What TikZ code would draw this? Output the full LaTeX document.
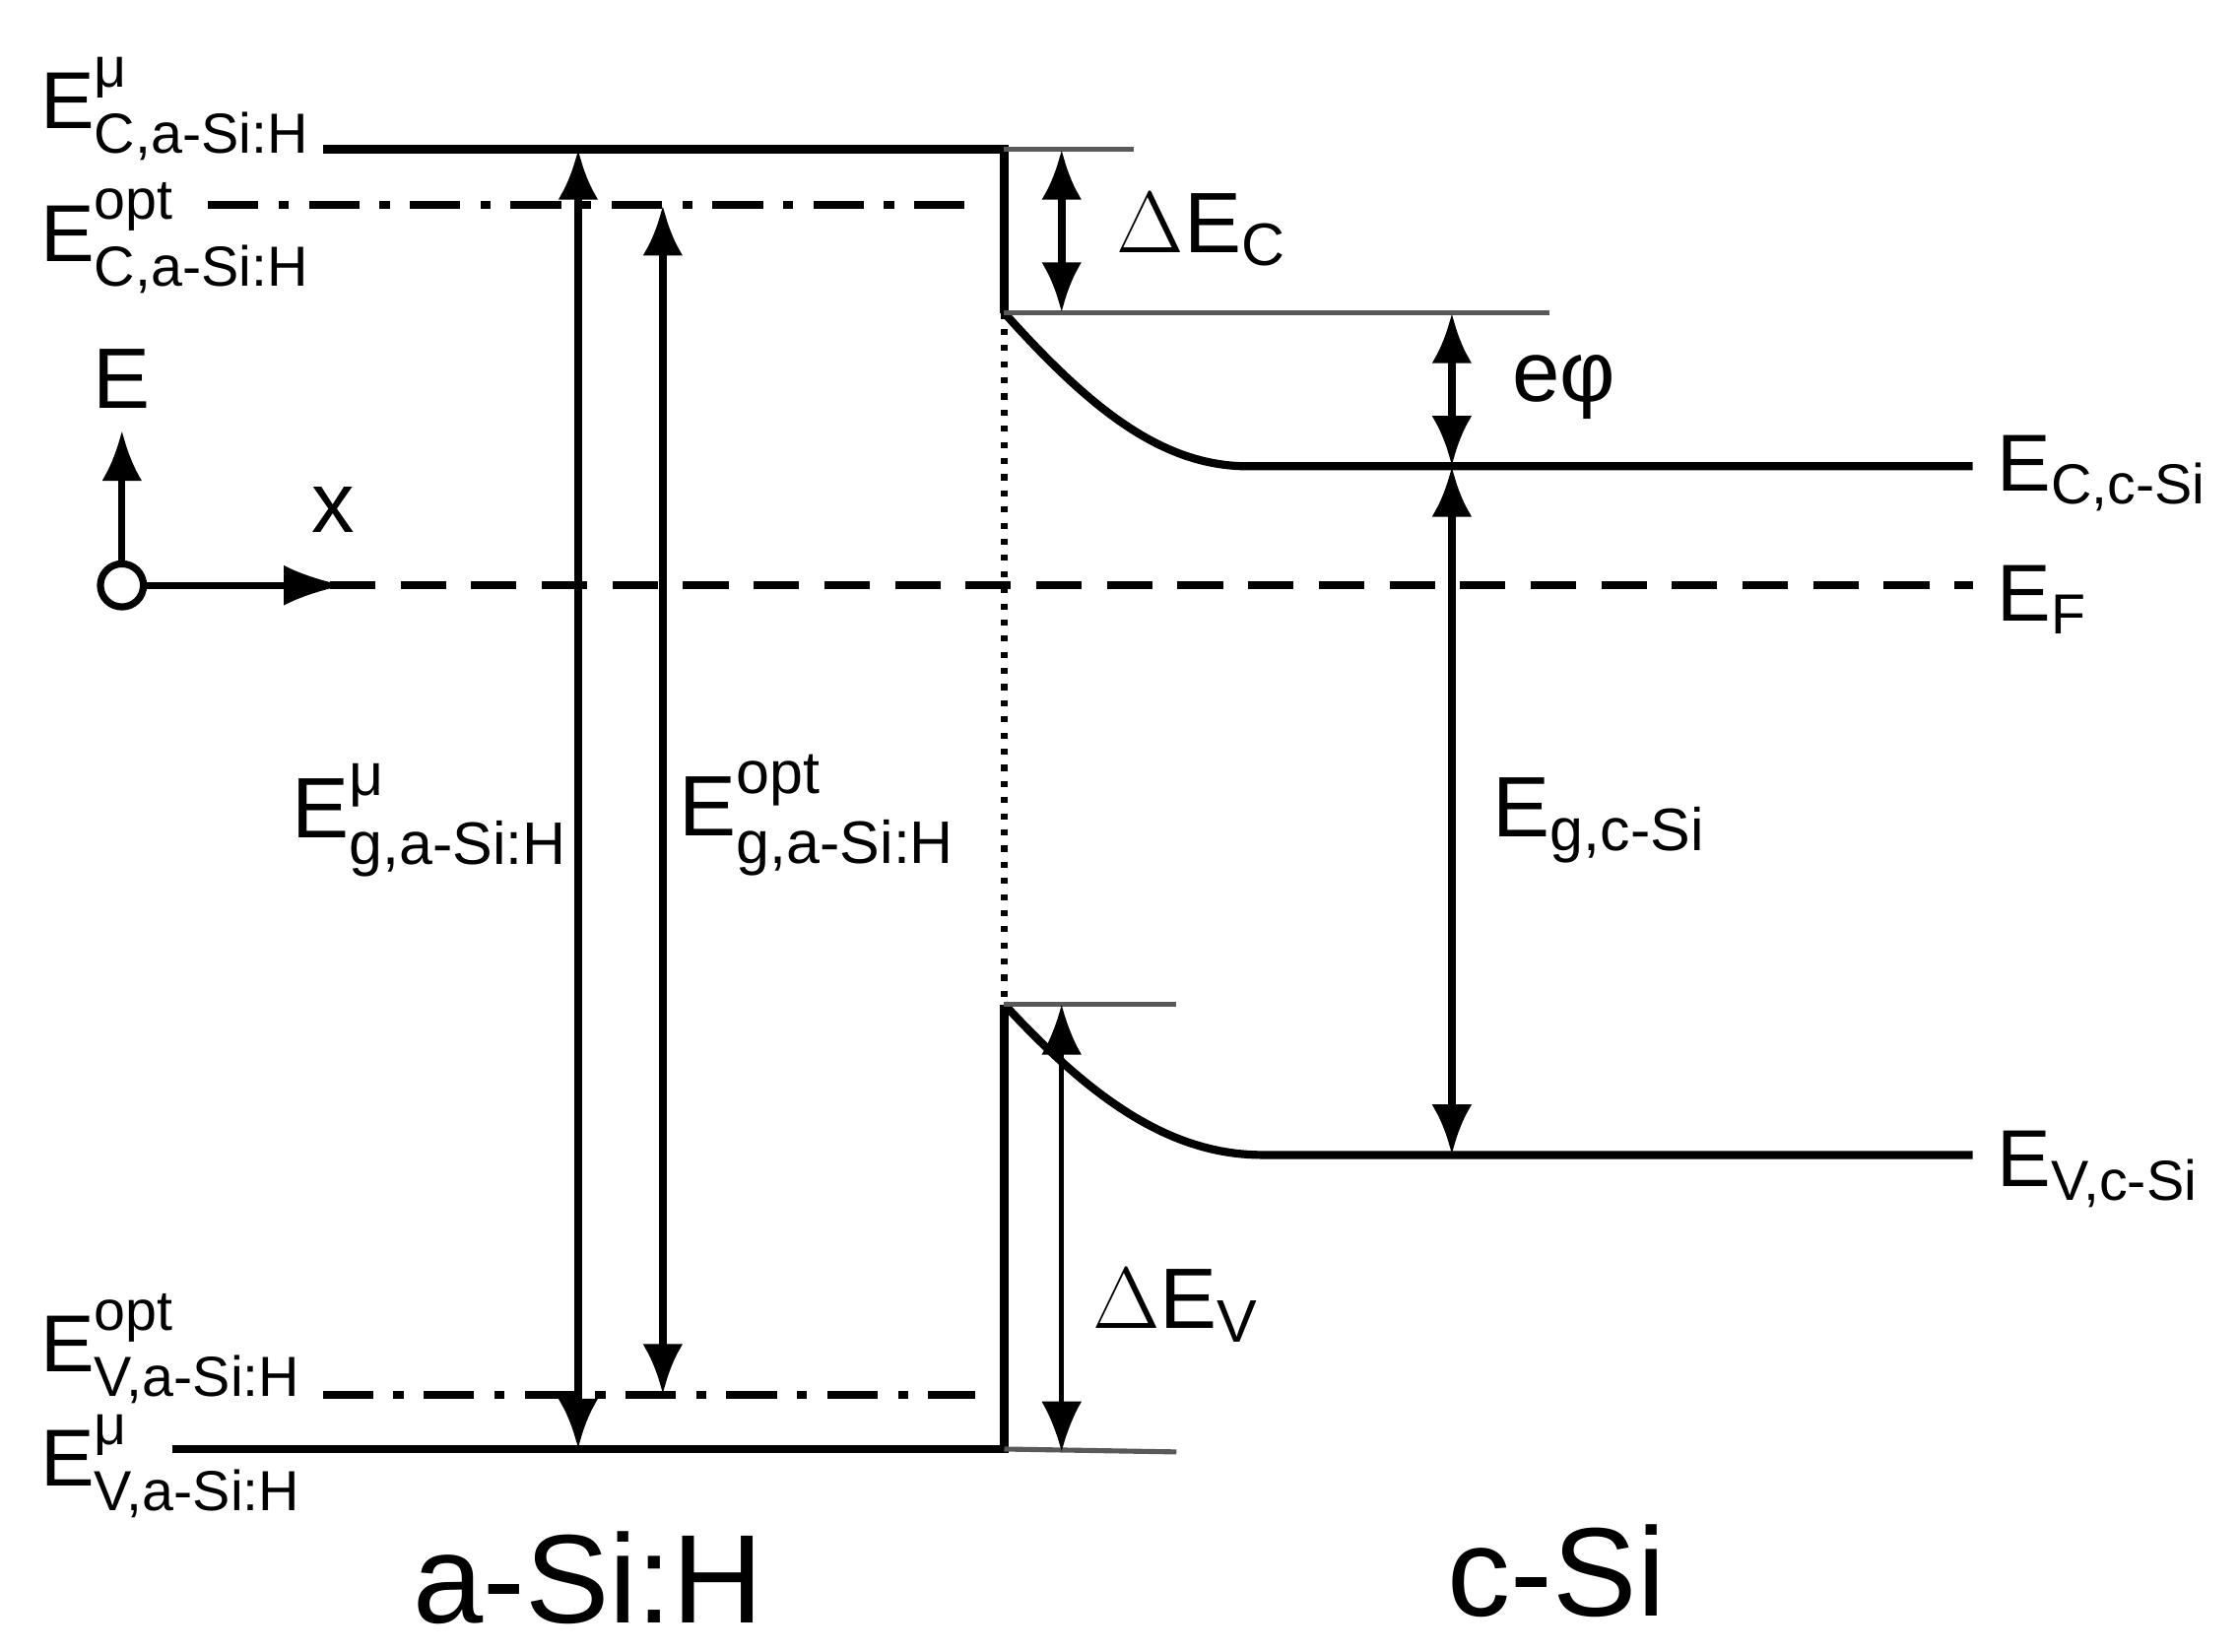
\documentclass[tikz,border=0pt]{standalone}
\usepackage{amsmath}
\usepackage{fontspec}
\setmainfont{Liberation Sans}
\usetikzlibrary{calc,positioning}
\usetikzlibrary{arrows.meta}
\newcommand{\lvl}[3]{E$^{\text{#2}}_{\text{#3}}$}

\begin{document}
\begin{tikzpicture}%
  [x=0.01cm, y=-0.01cm, text=black, node font=\fontsize{15}{17}\selectfont,
   band/.style={line width=1.6pt},
   thin/.style={line width=1pt, black!65},
   arr/.style={line width=1.6pt, {Latex[length=10pt,width=8pt]}-{Latex[length=10pt,width=8pt]}},
   lbl/.style={inner sep=1pt}]

  \useasboundingbox (0,0) rectangle (1560,1151);

  % a-Si:H side
  \coordinate (CaL) at (225,104);  \coordinate (CaR) at (700,104);
  \coordinate (OaL) at (145,143);  \coordinate (OaR) at (680,143);
  \coordinate (VoL) at (225,972);  \coordinate (VoR) at (680,972);
  \coordinate (VaL) at (120,1010); \coordinate (VaR) at (700,1010);
  \draw[band] (CaL) -- (CaR) -- (700,218);
  \draw[band, dash pattern=on 10pt off 4pt on 2pt off 4pt] (OaL) -- (OaR);
  \draw[band, dash pattern=on 10pt off 4pt on 2pt off 4pt] (VoL) -- (VoR);
  \draw[band] (VaL) -- (VaR) -- (700,700);

  % c-Si side
  \coordinate (Cint) at (700,218); \coordinate (Cb) at (870,325); \coordinate (CcR) at (1375,325);
  \coordinate (Vint) at (700,700); \coordinate (Vb) at (880,805); \coordinate (VcR) at (1375,805);
  \draw[band] (Cint) .. controls (760,285) and (810,325) .. (Cb) -- (CcR);
  \draw[band] (Vint) .. controls (760,765) and (815,805) .. (Vb) -- (VcR);
  \draw[line width=1.2pt, dotted] (Cint) -- (Vint);
  \draw[band, dash pattern=on 9pt off 5pt] (230,408) -- (1375,408);

  % reference ticks
  \draw[thin] (CaR) -- (790,104);
  \draw[thin] (Cint) -- (1080,218);
  \draw[thin] (Vint) -- (820,700);
  \draw[thin] (VaR) -- (820,1012);

  % arrows
  \draw[arr] (403,104) -- (403,1010);
  \draw[arr] (462,143) -- (462,972);
  \draw[arr] (740,104) -- (740,218);
  \draw[arr] (1012,218) -- (1012,325);
  \draw[arr] (1012,325) -- (1012,805);
  \draw[line width=1pt, {Latex[length=10pt,width=8pt]}-{Latex[length=10pt,width=8pt]}] (740,700) -- (740,1012);

  % axes
  \node (orig) at (85,408) [circle, draw, line width=1.4pt, minimum size=0.3cm, inner sep=0pt] {};
  \draw[line width=1.4pt, -{Latex[length=10pt,width=8pt]}] (orig) -- (85,300);
  \draw[line width=1.4pt, -{Latex[length=12pt,width=8pt]}] (orig) -- (240,408);
  \node (Eax) at (85,264) {\fontsize{17}{19}\selectfont E};
  \node (xax) at (232,355) {\fontsize{17}{19}\selectfont x};

  % labels
  \node[lbl, anchor=west] (lCa) at (24,76) {\fontsize{16}{18}\selectfont\lvl{E}{μ}{C,a-Si:H}};
  \node[lbl, anchor=west] (lOa) at (24,166) {\fontsize{16}{18}\selectfont\lvl{E}{opt}{C,a-Si:H}};
  \node[lbl, anchor=west] (lVo) at (24,940) {\fontsize{16}{18}\selectfont\lvl{E}{opt}{V,a-Si:H}};
  \node[lbl, anchor=west] (lVa) at (24,1022) {\fontsize{16}{18}\selectfont\lvl{E}{μ}{V,a-Si:H}};
  \node[lbl] (lEgm) at (300,572) {\fontsize{17}{19}\selectfont\lvl{E}{μ}{g,a-Si:H}};
  \node[lbl] (lEgo) at (570,568) {\fontsize{17}{19}\selectfont\lvl{E}{opt}{g,a-Si:H}};
  \node[lbl] (ldC) at (838,160) {\fontsize{17}{19}\selectfont $\Delta$E$_{\text{C}}$};
  \node[lbl] (ldV) at (820,910) {\fontsize{17}{19}\selectfont $\Delta$E$_{\text{V}}$};
  \node[lbl] (lphi) at (1090,270) {\fontsize{17}{19}\selectfont eφ};
  \node[lbl] (lEgc) at (1115,572) {\fontsize{17}{19}\selectfont E$_{\text{g,c-Si}}$};
  \node[lbl, anchor=west] (lCc) at (1388,330) {\fontsize{16}{18}\selectfont E$_{\text{C,c-Si}}$};
  \node[lbl, anchor=west] (lF) at (1388,418) {\fontsize{16}{18}\selectfont E$_{\text{F}}$};
  \node[lbl, anchor=west] (lVc) at (1388,815) {\fontsize{16}{18}\selectfont E$_{\text{V,c-Si}}$};
  \node (aSi) at (410,1100) {\fontsize{25}{27}\selectfont a-Si:H};
  \node (cSi) at (1085,1095) {\fontsize{25}{27}\selectfont c-Si};
\end{tikzpicture}
\end{document}
